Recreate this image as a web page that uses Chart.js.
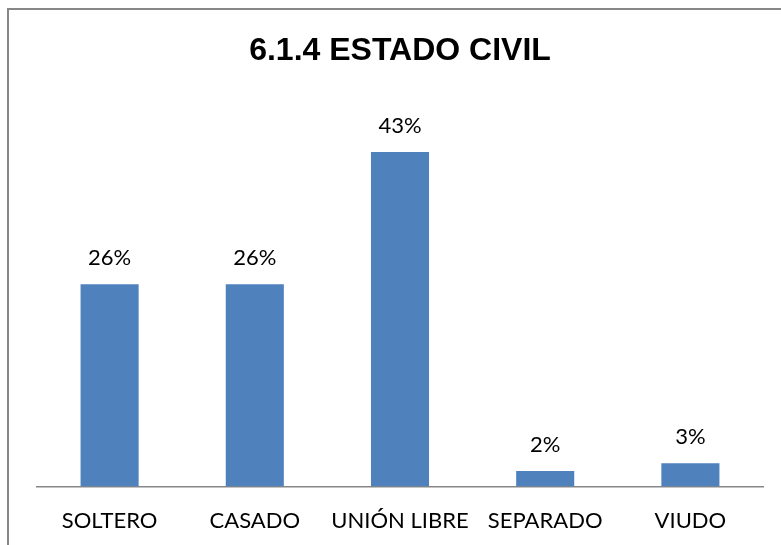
<!DOCTYPE html>
<html>
<head>
<meta charset="utf-8">
<script src="https://cdn.jsdelivr.net/npm/chart.js@4/dist/chart.umd.min.js"></script>
<style>
  html, body { margin: 0; padding: 0; background: #fff; }
  #wrap { position: relative; width: 781px; height: 545px; overflow: hidden; }
  #chart { display: block; }
  #frame {
    position: absolute; left: 7px; top: 8px; width: 900px; height: 700px;
    border: 2px solid #878787; box-sizing: border-box; pointer-events: none;
  }
</style>
</head>
<body>
<div id="wrap">
  <canvas id="chart" width="781" height="555"></canvas>
  <div id="frame"></div>
</div>
<script>
// data
const categories = ['SOLTERO', 'CASADO', 'UNIÓN LIBRE', 'SEPARADO', 'VIUDO'];
const percentages = [26, 26, 43, 2, 3];
const chartTitle = '6.1.4 ESTADO CIVIL';

// data labels above the bars
const valueLabels = {
  id: 'valueLabels',
  afterDatasetsDraw(chart) {
    const ctx = chart.ctx;
    const meta = chart.getDatasetMeta(0);
    ctx.save();
    ctx.font = '22px Lato';
    ctx.fillStyle = '#000';
    ctx.textAlign = 'center';
    ctx.textBaseline = 'alphabetic';
    meta.data.forEach((bar, i) => {
      ctx.fillText(percentages[i] + '%', bar.x, bar.y - 19);
    });
    ctx.restore();
  }
};

new Chart(document.getElementById('chart'), {
  type: 'bar',
  data: {
    labels: categories,
    datasets: [{
      data: percentages,
      backgroundColor: '#4F81BD',
      barPercentage: 0.4,
      categoryPercentage: 1
    }]
  },
  options: {
    responsive: false,
    animation: false,
    layout: { padding: { left: 37, right: 18, top: 0, bottom: 0 } },
    plugins: {
      legend: { display: false },
      tooltip: { enabled: false },
      title: {
        display: true,
        text: chartTitle,
        color: '#000',
        font: { family: 'Liberation Sans', size: 32, weight: 'bold' },
        padding: { top: 32, bottom: 27 }
      }
    },
    scales: {
      x: {
        grid: { display: false, drawTicks: false },
        border: { display: true, color: '#878787', width: 1.5 },
        ticks: {
          color: '#000',
          font: { family: 'Lato', size: 22 },
          padding: 21,
          autoSkip: false,
          maxRotation: 0
        }
      },
      y: {
        display: false,
        min: 0,
        max: 50
      }
    }
  },
  plugins: [valueLabels]
});
</script>
</body>
</html>
